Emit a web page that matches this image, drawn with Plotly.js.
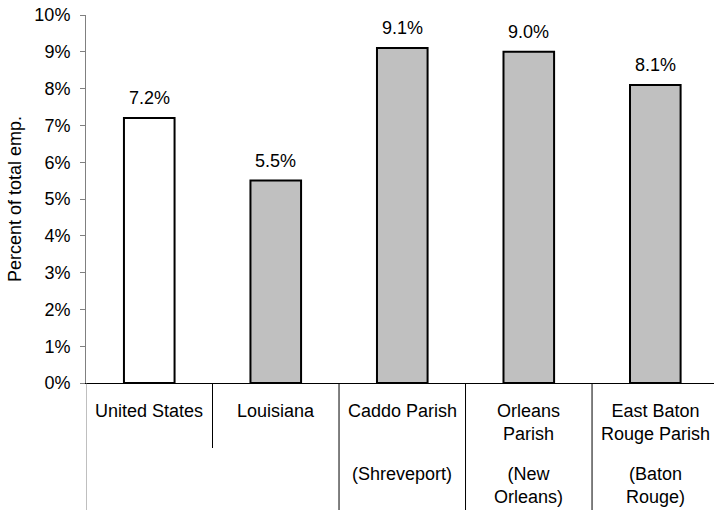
<!DOCTYPE html>
<html>
<head>
<meta charset="utf-8">
<script src="https://cdn.plot.ly/plotly-3.0.1.min.js"></script>
<style>
  html, body { margin: 0; padding: 0; background: #fff; }
  #chart { width: 714px; height: 510px; }
</style>
</head>
<body>
<div id="chart"></div>
<script>
// Share of total employment by area (percent)
const categories = ["United States", "Louisiana", "Caddo Parish", "Orleans Parish", "East Baton Rouge Parish"];
const topLabels = ["United States", "Louisiana", "Caddo Parish", "Orleans<br>Parish", "East Baton<br>Rouge Parish"];
const cityLabels = ["", "", "(Shreveport)", "(New<br>Orleans)", "(Baton<br>Rouge)"];
const values = [7.2, 5.5, 9.1, 9.0, 8.1];
const barFills = ["#FFFFFF", "#C0C0C0", "#C0C0C0", "#C0C0C0", "#C0C0C0"];
const yTicks = [0, 1, 2, 3, 4, 5, 6, 7, 8, 9, 10];

const FONT = "Liberation Sans, Arial, Helvetica, sans-serif";
const FS = 18;

const trace = {
  type: "bar",
  x: categories,
  y: values,
  width: 0.4,
  marker: { color: barFills, line: { color: "#000000", width: 2 } },
  hoverinfo: "skip"
};

const annotations = [];
// value labels above the bars
categories.forEach((c, i) => {
  annotations.push({
    x: c, y: values[i], xref: "x", yref: "y",
    text: values[i].toFixed(1) + "%",
    showarrow: false, yanchor: "bottom", yshift: 8,
    font: { family: FONT, size: FS, color: "#000" }
  });
});
// first-level category names
categories.forEach((c, i) => {
  annotations.push({
    x: i, y: 0, xref: "x", yref: "paper",
    text: topLabels[i], showarrow: false,
    yanchor: "top", yshift: -16,
    font: { family: FONT, size: FS, color: "#000" }
  });
  if (cityLabels[i]) {
    annotations.push({
      x: i, y: 0, xref: "x", yref: "paper",
      text: cityLabels[i], showarrow: false,
      yanchor: "top", yshift: -79,
      font: { family: FONT, size: FS, color: "#000" }
    });
  }
});

// group dividers below the category axis
const dividers = [
  { x: -0.5, depth: 127, color: "#808080" },
  { x: 0.5, depth: 65, color: "#000000" },
  { x: 1.5, depth: 127, color: "#000000" },
  { x: 2.5, depth: 127, color: "#000000" },
  { x: 3.5, depth: 127, color: "#000000" }
];
const shapes = dividers.map(d => ({
  type: "line", xref: "x", yref: "paper",
  ysizemode: "pixel", yanchor: 0,
  x0: d.x, x1: d.x, y0: 0, y1: -d.depth,
  line: { color: d.color, width: 1 }
}));

const layout = {
  width: 714, height: 510,
  margin: { l: 86, r: 0, t: 15, b: 127 },
  paper_bgcolor: "#fff", plot_bgcolor: "#fff",
  showlegend: false,
  font: { family: FONT, size: FS, color: "#000" },
  bargap: 0.6,
  xaxis: {
    type: "category",
    range: [-0.5, 4.464],
    showticklabels: false,
    ticks: "",
    showgrid: false, zeroline: false,
    showline: true, linecolor: "#000", linewidth: 1,
    fixedrange: true
  },
  yaxis: {
    range: [0, 10],
    tickvals: yTicks,
    ticktext: yTicks.map(v => v + "%"),
    ticks: "outside", ticklen: 5, tickcolor: "#808080", tickwidth: 1,
    ticklabelstandoff: 6,
    showgrid: false, zeroline: false,
    showline: true, linecolor: "#808080", linewidth: 1,
    tickfont: { family: FONT, size: FS, color: "#000" },
    title: { text: "Percent of total emp.", font: { family: FONT, size: FS, color: "#000" }, standoff: 8 },
    fixedrange: true
  },
  annotations: annotations,
  shapes: shapes
};

Plotly.newPlot("chart", [trace], layout, { displayModeBar: false, staticPlot: true });
</script>
</body>
</html>
